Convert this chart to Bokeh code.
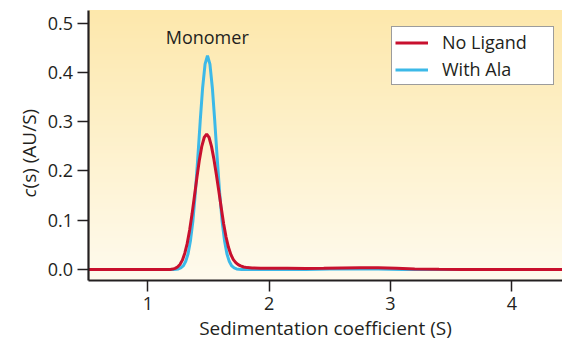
import numpy as np
from bokeh.plotting import figure
from bokeh.models import Range1d, FixedTicker, PrintfTickFormatter, Legend, LegendItem, Label
from bokeh.embed import file_html
from bokeh.resources import INLINE

# ---- data ----
blue_x = [0.515, 1.0, 1.152, 1.172, 1.192, 1.212, 1.232, 1.252, 1.272, 1.292, 1.312, 1.332,
          1.352, 1.372, 1.392, 1.412, 1.432, 1.452, 1.472, 1.492, 1.512, 1.532, 1.552, 1.572,
          1.592, 1.612, 1.632, 1.652, 1.672, 1.692, 1.712, 1.732, 1.752, 1.772, 1.792, 1.832,
          2.0, 2.3, 2.5, 2.7, 2.9, 3.1, 3.4, 4.42]
blue_y = [0, 0, 0, 0, 0, 0.0001, 0.0004, 0.0012, 0.0031, 0.0073, 0.016, 0.032,
          0.059, 0.099, 0.156, 0.226, 0.301, 0.369, 0.417, 0.434, 0.417, 0.369, 0.301, 0.226,
          0.156, 0.099, 0.059, 0.032, 0.016, 0.0073, 0.0031, 0.0012, 0.0004, 0.0001, 0, 0,
          0, 0, 0.001, 0.001, 0.001, 0, 0, 0]

red_x = [0.515, 1.0, 1.155, 1.185, 1.205, 1.225, 1.245, 1.265, 1.285, 1.305, 1.325,
         1.345, 1.365, 1.385, 1.405, 1.425, 1.445, 1.465, 1.485, 1.505, 1.525, 1.545, 1.565,
         1.585, 1.605, 1.625, 1.645, 1.665, 1.685, 1.705, 1.725, 1.745, 1.765, 1.79, 1.82,
         1.86, 1.93, 2.15, 2.3, 2.45, 2.6, 2.75, 2.9, 3.05, 3.2, 3.4, 3.6, 4.42]
red_y = [0, 0, 0, 0.0002, 0.0008, 0.0022, 0.005, 0.010, 0.019, 0.033, 0.053,
         0.080, 0.113, 0.150, 0.187, 0.222, 0.250, 0.268, 0.275, 0.268, 0.250, 0.224, 0.193,
         0.160, 0.126, 0.093, 0.066, 0.045, 0.030, 0.020, 0.014, 0.0098, 0.0072, 0.0050, 0.0038,
         0.0031, 0.0027, 0.0025, 0.0020, 0.0025, 0.0032, 0.0036, 0.0034, 0.0025, 0.0012, 0.0003,
         0, 0]

series_names = ["No Ligand", "With Ala"]
x_ticks = [1, 2, 3, 4]
y_ticks = [0.0, 0.1, 0.2, 0.3, 0.4, 0.5]
peak_label = "Monomer"

# drawing area covers the whole figure; the axes sit at X0 / Y0
XF, X1 = -0.214, 4.418
YF, YT = -0.1462, 0.5461
X0 = 0.5154
Y0, Y1 = -0.0223, 0.5268

RED = "#c8102e"
BLUE = "#3cb9e8"
INK = "#231f20"
FONT = "Open Sans"

p = figure(width=562, height=341, x_range=Range1d(XF, X1), y_range=Range1d(YF, YT),
           output_backend="svg", toolbar_location=None,
           min_border_left=0, min_border_right=0, min_border_top=0, min_border_bottom=0)
p.outline_line_color = None
p.grid.visible = False
p.background_fill_color = "white"
p.border_fill_color = "white"

# vertical gradient background of the data area
rows = 256
top = np.array([253, 232, 172], dtype=float)
bot = np.array([255, 251, 238], dtype=float)
t = np.linspace(0, 1, rows)[:, None]
cols = (bot + (top - bot) * t).astype(np.uint8)
img = np.zeros((rows, 2), dtype=np.uint32)
view = img.view(dtype=np.uint8).reshape((rows, 2, 4))
view[:, :, 0] = cols[:, 0][:, None]
view[:, :, 1] = cols[:, 1][:, None]
view[:, :, 2] = cols[:, 2][:, None]
view[:, :, 3] = 255
p.image_rgba(image=[img], x=X0, y=Y0, dw=X1 - X0, dh=Y1 - Y0)

r_blue = p.line(blue_x, blue_y, line_color=BLUE, line_width=3)
r_red = p.line(red_x, red_y, line_color=RED, line_width=3)

# axes
for ax in (p.xaxis[0], p.yaxis[0]):
    ax.axis_line_color = INK
    ax.axis_line_width = 2.2
    ax.major_tick_line_color = INK
    ax.major_tick_line_width = 1.5
    ax.major_tick_out = 11
    ax.major_tick_in = 0
    ax.minor_tick_line_color = None
    ax.major_label_text_font = FONT
    ax.major_label_text_font_size = "18px"
    ax.major_label_text_color = INK

p.xaxis.fixed_location = Y0
p.xaxis.bounds = (X0, X1)
p.xaxis.ticker = FixedTicker(ticks=x_ticks)
p.xaxis.formatter = PrintfTickFormatter(format="%d")
p.xaxis.major_label_standoff = 6
p.xaxis.axis_label = "Sedimentation coefficient (S)"
p.xaxis.axis_label_text_font = FONT
p.xaxis.axis_label_text_font_style = "normal"
p.xaxis.axis_label_text_font_size = "19px"
p.xaxis.axis_label_text_color = INK
p.xaxis.axis_label_standoff = 1

p.yaxis.fixed_location = X0
p.yaxis.bounds = (Y0, Y1)
p.yaxis.ticker = FixedTicker(ticks=y_ticks)
p.yaxis.formatter = PrintfTickFormatter(format="%.1f")
p.yaxis.major_label_standoff = 5

# y-axis title with italic c
lab_c = Label(x=0.022, y=0.146, text="c", angle=np.pi / 2,
              text_align="left", text_baseline="middle", text_font=FONT,
              text_font_style="italic", text_font_size="19px", text_color=INK)
lab_rest = Label(x=0.022, y=0.1645, text="(s) (AU/S)", angle=np.pi / 2,
                 text_align="left", text_baseline="middle", text_font=FONT,
                 text_font_size="19px", text_color=INK)
p.add_layout(lab_c)
p.add_layout(lab_rest)

# peak annotation
p.add_layout(Label(x=1.49, y=0.471, text=peak_label,
                   text_align="center", text_baseline="middle", text_font=FONT,
                   text_font_size="18px", text_color=INK))

legend = Legend(items=[LegendItem(label=series_names[0], renderers=[r_red]),
                       LegendItem(label=series_names[1], renderers=[r_blue])],
                location=(391, 256))
legend.border_line_color = "#3a3a3a"
legend.border_line_width = 1.5
legend.background_fill_color = "white"
legend.background_fill_alpha = 1
legend.label_text_font = FONT
legend.label_text_font_size = "18px"
legend.label_text_color = INK
legend.glyph_width = 33
legend.glyph_height = 19
legend.label_height = 19
legend.spacing = 3
legend.padding = 3
legend.margin = 0
legend.label_standoff = 14
legend.label_width = 108
p.add_layout(legend)

open("out.html", "w").write(file_html(p, INLINE))
